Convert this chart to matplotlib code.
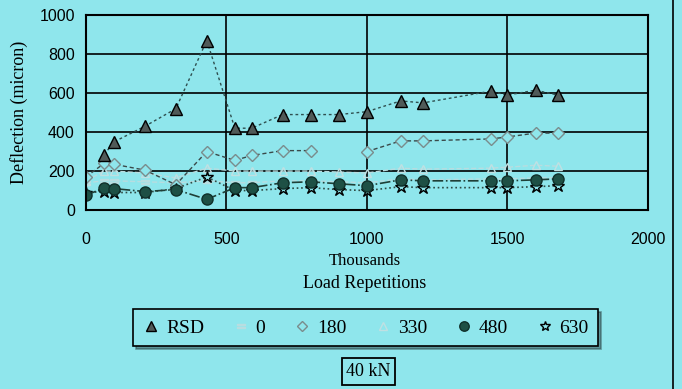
import numpy as np
import matplotlib.pyplot as plt
from matplotlib.lines import Line2D

nan = np.nan
# load repetitions (thousands)
reps = [0, 65, 100, 210, 320, 430, 530, 590, 700, 800, 900, 1000,
        1120, 1200, 1440, 1500, 1600, 1680]

# deflection (micron) per offset
rsd = [nan, 285, 350, 430, 520, 870, 420, 420, 490, 490, 490, 505,
       560, 550, 610, 590, 615, 590]
d0 = [140, 150, 150, 145, 140, 150, 140, 140, 150, 150, 145, 140,
      160, 155, 160, 160, 165, 165]
d180 = [170, 240, 235, 205, 130, 300, 255, 280, 305, 305, nan, 300,
        355, 355, 365, 375, 395, 395]
d330 = [150, 200, 200, 190, 165, 215, 200, 200, 200, 200, 195, 190,
        215, 210, 215, 220, 230, 225]
d480 = [75, 115, 110, 95, 105, 55, 115, 115, 140, 145, 135, 125,
        155, 150, 150, 150, 155, 160]
d630 = [90, 95, 90, 90, 110, 170, 100, 100, 110, 115, 105, 100,
        120, 115, 115, 115, 120, 125]

bg = '#8fe6ec'
plt.rcParams['font.family'] = ['Liberation Serif', 'DejaVu Serif']

fig = plt.figure(figsize=(6.82, 3.89), dpi=100, facecolor=bg)
ax = fig.add_axes([0.126, 0.46, 0.824, 0.501])
ax.set_facecolor(bg)

styles = {
    '0':   dict(color='#b8dde0', ls='--', lw=1, marker='$=$', ms=6, mfc='#b8dde0', mec='#b8dde0'),
    '330': dict(color='#b8dde0', ls='--', lw=1, marker='^', ms=6, mfc='none', mec='#c0e0e2'),
    '180': dict(color='#3a4a4a', ls=(0, (3, 2)), lw=1, marker='D', ms=6, mfc=bg, mec='#7a8c8c'),
    '630': dict(color='#2e4a44', ls=':', lw=1.2, marker='*', ms=9, mfc=bg, mec='black'),
    '480': dict(color='#1f3f37', ls='-.', lw=1.2, marker='o', ms=8, mfc='#1e5045', mec='#10302a'),
    'RSD': dict(color='#2f5050', ls=(0, (2, 2)), lw=1, marker='^', ms=8, mfc='#505a58', mec='black'),
}
series = {'0': d0, '330': d330, '180': d180, '630': d630, '480': d480, 'RSD': rsd}
for k in ['0', '330', '180', '630', '480', 'RSD']:
    ax.plot(reps, series[k], **styles[k])

ax.set_xlim(0, 2000)
ax.set_ylim(0, 1000)
ax.set_xticks([0, 500, 1000, 1500, 2000])
ax.set_yticks([0, 200, 400, 600, 800, 1000])
ax.grid(True, color='black', lw=1.2)
for s in ax.spines.values():
    s.set_linewidth(1.5)
ax.tick_params(length=0, labelsize=11.5, pad=8)
ax.tick_params(axis='x', pad=16)
for lab in ax.get_xticklabels() + ax.get_yticklabels():
    lab.set_family(['Liberation Sans', 'DejaVu Sans'])

ax.set_ylabel('Deflection (micron)', fontsize=13, labelpad=8)
fig.text(0.535, 0.33, 'Thousands', ha='center', va='center', fontsize=12)
fig.text(0.535, 0.272, 'Load Repetitions', ha='center', va='center', fontsize=13)

# legend shows markers only
order = ['RSD', '0', '180', '330', '480', '630']
hs = []
for k in order:
    st = dict(styles[k])
    st['ls'] = 'none'
    st['ms'] = st['ms'] * 0.85
    hs.append(Line2D([], [], **st))
leg = fig.legend(hs, order, loc='center', bbox_to_anchor=(0.536, 0.157), ncol=6,
                 fontsize=14, frameon=True, fancybox=False, shadow=True,
                 handlelength=0.9, handletextpad=0.3, columnspacing=1.45,
                 borderpad=0.5)
leg.get_frame().set_edgecolor('black')
leg.get_frame().set_facecolor(bg)
leg.get_frame().set_linewidth(1.2)

fig.text(0.54, 0.045, '40 kN', ha='center', va='center', fontsize=13,
         bbox=dict(boxstyle='square,pad=0.25', fc=bg, ec='black', lw=1.3))

fig.add_artist(Line2D([0.987, 0.987], [0, 1], color='black', lw=1.2,
                      transform=fig.transFigure))

fig.savefig('out.png', dpi=100, facecolor=bg)
